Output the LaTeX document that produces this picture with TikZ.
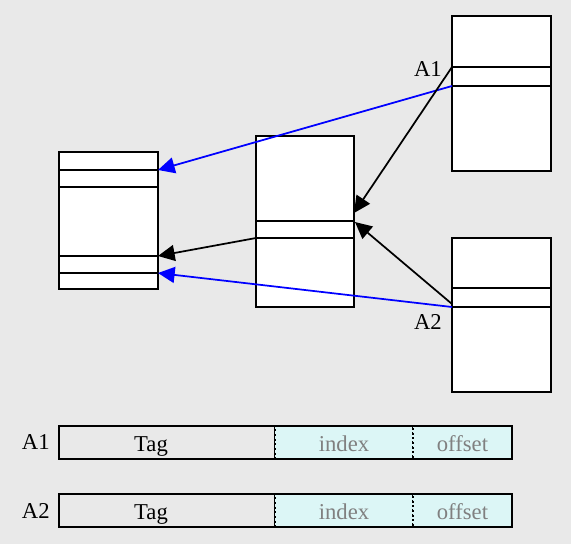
\documentclass[tikz,border=0pt]{standalone}
\usepackage{fontspec}
\setmainfont{Liberation Serif}
\usetikzlibrary{arrows.meta,positioning}
\definecolor{canvas}{HTML}{E9E9E9}
\definecolor{field}{HTML}{DCF6F6}
\definecolor{wire}{HTML}{0000FF}
\definecolor{faint}{HTML}{808080}

\begin{document}
\begin{tikzpicture}[
  x=0.75pt,y=-0.75pt,
  font=\fontsize{17}{20}\selectfont,
  blk/.style={draw,line width=1.5pt,fill=white,inner sep=0pt},
  cell/.style={draw,line width=1.5pt,inner sep=0pt,outer sep=0pt,minimum height=25pt,
    text height=13pt,text depth=0pt,anchor=west},
  field/.style={cell,fill=field,dotted,line width=1pt,text=faint},
  arr/.style={-{Triangle[length=12.5pt,width=12pt]},line width=1.3pt},
  >=Triangle]
\fill[canvas] (0,0) rectangle (571,544);
\useasboundingbox (0,0) rectangle (571,544);
% cache blocks
\node[blk,minimum width=74.25pt,minimum height=102.75pt] (left) at (108.5,220.5) {};
\node[blk,minimum width=73.5pt,minimum height=128.25pt] (mid) at (305,221.5) {};
\node[blk,minimum width=74.25pt,minimum height=116.25pt] (up) at (501.5,93.5) {};
\node[blk,minimum width=74.25pt,minimum height=115.5pt] (down) at (501.5,315) {};
% slot lines
\foreach \y in {170,187,256,273} \draw[line width=1.5pt] (59,\y) -- (158,\y);
\foreach \y in {221,238} \draw[line width=1.5pt] (256,\y) -- (354,\y);
\foreach \y in {67,86} \draw[line width=1.5pt] (452,\y) -- (551,\y);
\foreach \y in {288,307} \draw[line width=1.5pt] (452,\y) -- (551,\y);
% ports
\coordinate (u1) at (452,67);
\coordinate (u2) at (452,86);
\coordinate (d1) at (452,304);
\coordinate (d2) at (452,307);
\coordinate (m1) at (354,213);
\coordinate (m2) at (355,222);
\coordinate (m3) at (256,238);
\coordinate (l1) at (158,170);
\coordinate (l2) at (158,256);
\coordinate (l3) at (158,273);
\draw[arr,wire] (u2) -- (l1);
\draw[arr] (u1) -- (m1);
\draw[arr] (d1) -- (m2);
\draw[arr] (m3) -- (l2);
\draw[arr,wire] (d2) -- (l3);
\node[anchor=east,inner sep=0pt] (a1) at (442,69) {A1};
\node[anchor=east,inner sep=0pt] (a2) at (442,322) {A2};
% address layouts
\node[cell,minimum width=162pt] (tag1) at (59,442.5) {};
\node[field,minimum width=103.5pt] (idx1) at (tag1.east) {index};
\node[field,minimum width=74.25pt] (off1) at (idx1.east) {offset};
\draw[line width=1.5pt] (tag1.north west) rectangle (off1.south east);
\node[anchor=base] (tagt1) at (151,451) {Tag};
\node[left=3.5pt of tag1] (lab1) {A1};
\node[cell,minimum width=162pt] (tag2) at (59,510.5) {};
\node[field,minimum width=103.5pt] (idx2) at (tag2.east) {index};
\node[field,minimum width=74.25pt] (off2) at (idx2.east) {offset};
\draw[line width=1.5pt] (tag2.north west) rectangle (off2.south east);
\node[anchor=base] (tagt2) at (151,519) {Tag};
\node[left=3.5pt of tag2] (lab2) {A2};
\end{tikzpicture}
\end{document}
